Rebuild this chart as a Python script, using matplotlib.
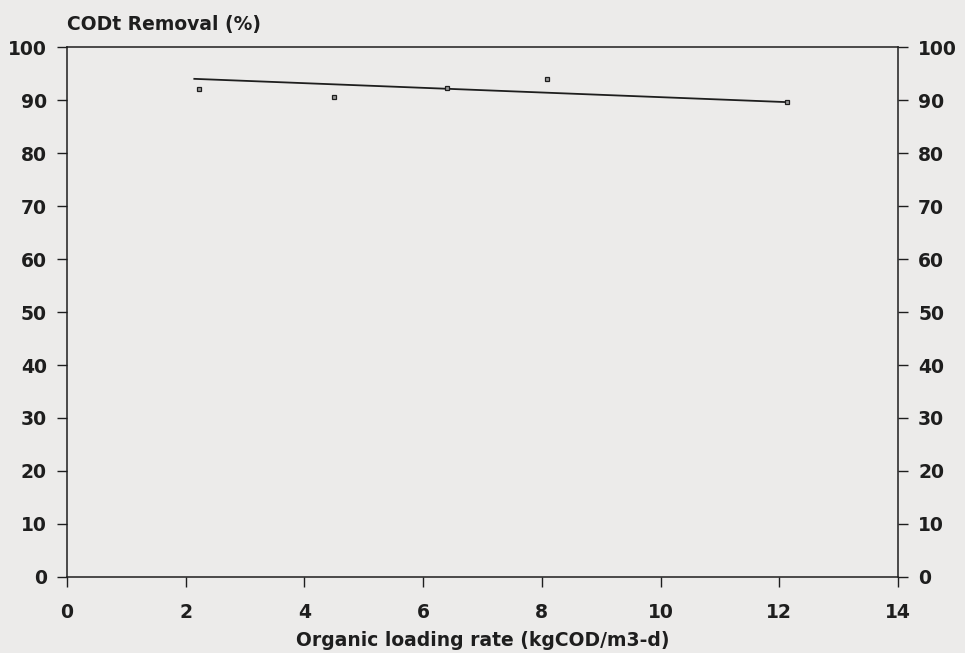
import matplotlib
matplotlib.use("Agg")
import matplotlib.pyplot as plt

# Data
olr = [2.22, 4.49, 6.41, 8.09, 12.13]          # Organic loading rate (kgCOD/m3-d)
cod_removal = [92.0, 90.6, 92.3, 93.9, 89.6]   # CODt removal (%)
fit_x = [2.13, 12.13]
fit_y = [94.0, 89.6]

x_ticks = [0, 2, 4, 6, 8, 10, 12, 14]
y_ticks = [0, 10, 20, 30, 40, 50, 60, 70, 80, 90, 100]

plt.rcParams['font.family'] = ['DejaVu Sans']
ink = '#1e1e1e'
bg = '#ecebea'
fs = 13.5

fig = plt.figure(figsize=(9.65, 6.53), dpi=100, facecolor=bg)
ax = fig.add_axes([0.0694, 0.1164, 0.8612, 0.8116], facecolor=bg)

ax.plot(fit_x, fit_y, color=ink, lw=1.3, solid_capstyle='butt')
ax.plot(olr, cod_removal, linestyle='none', marker='s', markersize=3.5,
        markerfacecolor='#9a9a9a', markeredgecolor=ink, markeredgewidth=0.9)

ax.set_xlim(0, 14)
ax.set_ylim(0, 100)
ax.set_xticks(x_ticks)
ax.set_yticks(y_ticks)
ax.set_xticklabels([str(t) for t in x_ticks])
ax.set_yticklabels([str(t) for t in y_ticks])

for s in ['left', 'right', 'top', 'bottom']:
    ax.spines[s].set_color(ink)
    ax.spines[s].set_linewidth(1.1)

ax.tick_params(axis='y', which='both', direction='out', length=7.5, width=1.0,
               color=ink, left=True, right=True, labelleft=True, labelright=True,
               labelsize=fs, labelcolor=ink, pad=7)
ax.tick_params(axis='x', which='both', direction='out', length=7.5, width=1.0,
               color=ink, bottom=True, top=False, labelsize=fs, labelcolor=ink, pad=11)
for lab in ax.get_xticklabels() + ax.get_yticklabels():
    lab.set_fontweight('bold')

ax.set_xlabel('Organic loading rate (kgCOD/m3-d)', fontsize=fs, fontweight='bold',
              color=ink, labelpad=7)
ax.text(0.0, 1.025, 'CODt Removal (%)', transform=ax.transAxes, ha='left', va='bottom',
        fontsize=fs, fontweight='bold', color=ink)

fig.savefig('out.png', dpi=100, facecolor=bg)
